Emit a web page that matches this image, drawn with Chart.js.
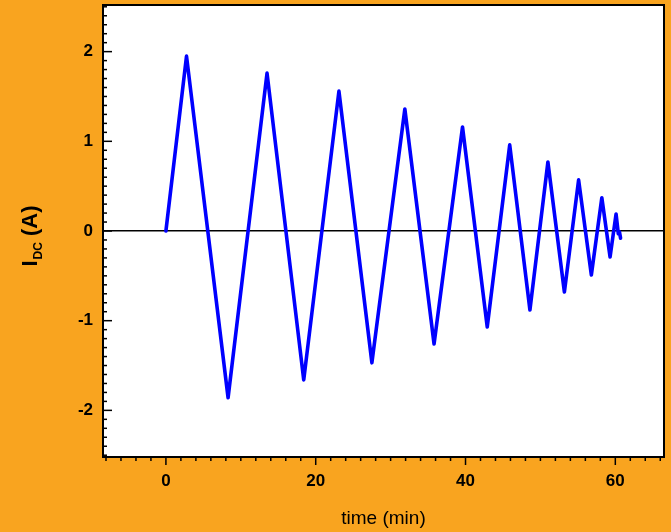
<!DOCTYPE html>
<html>
<head>
<meta charset="utf-8">
<script src="https://cdn.jsdelivr.net/npm/chart.js@4/dist/chart.umd.min.js"></script>
<style>
  html, body { margin: 0; padding: 0; background: #f9a41f; }
  #wrap { width: 671px; height: 532px; }
</style>
</head>
<body>
<div id="wrap"><canvas id="dcChart" width="671" height="532"></canvas></div>
<script>
// time in minutes, DC current in amps (turning points of the sweep)
const timeMin = [0, 2.75, 8.3, 13.5, 18.4, 23.1, 27.5, 31.9, 35.8, 39.6, 42.9, 45.9, 48.6, 51.0, 53.2, 55.1, 56.8, 58.2, 59.3, 60.1, 60.4, 60.55, 60.7];
const currentA = [0, 1.95, -1.86, 1.76, -1.66, 1.56, -1.47, 1.36, -1.26, 1.16, -1.07, 0.96, -0.88, 0.77, -0.68, 0.57, -0.49, 0.37, -0.29, 0.19, -0.03, -0.01, -0.08];
const xTickValues = [0, 20, 40, 60];
const yTickValues = [-2, -1, 0, 1, 2];

const points = timeMin.map((t, i) => ({ x: t, y: currentA[i] }));

const fontFamily = '"Liberation Sans", Arial, sans-serif';

// box frame, minor/major ticks and the subscripted y title
const framePlugin = {
  id: 'frame',
  afterDraw(chart) {
    const ctx = chart.ctx;
    const area = chart.chartArea;
    const xs = chart.scales.x;
    const ys = chart.scales.y;
    ctx.save();
    ctx.strokeStyle = '#000';

    // x ticks, outside below the axis
    ctx.lineWidth = 1.5;
    for (let v = -8; v <= xs.max; v += 2) {
      const px = xs.getPixelForValue(v);
      const len = v % 20 === 0 ? 8 : 4;
      ctx.beginPath();
      ctx.moveTo(px, area.bottom);
      ctx.lineTo(px, area.bottom + len);
      ctx.stroke();
    }
    // y ticks, inside from the left axis
    for (let k = -25; k <= 25; k++) {
      const v = k / 10;
      const py = ys.getPixelForValue(v);
      const len = k % 10 === 0 ? 9 : 4;
      ctx.beginPath();
      ctx.moveTo(area.left, py);
      ctx.lineTo(area.left + len, py);
      ctx.stroke();
    }

    ctx.lineWidth = 2;
    ctx.strokeRect(area.left, area.top, area.right - area.left, area.bottom - area.top);

    // y title: I_DC (A)
    ctx.translate(31, (area.top + area.bottom) / 2 + 5);
    ctx.rotate(-Math.PI / 2);
    ctx.fillStyle = '#000';
    ctx.textBaseline = 'middle';
    ctx.font = 'bold 22px ' + fontFamily;
    const wI = ctx.measureText('I').width;
    ctx.font = 'bold 12px ' + fontFamily;
    const wDC = ctx.measureText('DC').width;
    ctx.font = 'bold 22px ' + fontFamily;
    const wRest = ctx.measureText(' (A)').width;
    let x0 = -(wI + wDC + 1 + wRest) / 2;
    ctx.fillText('I', x0, 0);
    x0 += wI + 1;
    ctx.font = 'bold 12px ' + fontFamily;
    ctx.fillText('DC', x0, 8);
    x0 += wDC;
    ctx.font = 'bold 22px ' + fontFamily;
    ctx.fillText(' (A)', x0, 0);
    ctx.restore();
  }
};

const plotBg = {
  id: 'plotBg',
  beforeDraw(chart) {
    const ctx = chart.ctx;
    const a = chart.chartArea;
    ctx.save();
    ctx.fillStyle = '#f9a41f';
    ctx.fillRect(0, 0, chart.width, chart.height);
    ctx.fillStyle = '#ffffff';
    ctx.fillRect(a.left, a.top, a.right - a.left, a.bottom - a.top);
    ctx.restore();
  }
};

new Chart(document.getElementById('dcChart').getContext('2d'), {
  type: 'line',
  data: {
    datasets: [{
      label: 'I DC',
      data: points,
      borderColor: '#0000ff',
      borderWidth: 3.6,
      borderJoinStyle: 'round',
      borderCapStyle: 'round',
      pointRadius: 0,
      tension: 0,
      fill: false,
    }],
  },
  options: {
    responsive: false,
    animation: false,
    layout: { padding: { top: 5, right: 7, left: 0, bottom: 0 } },
    plugins: {
      legend: { display: false },
      tooltip: { enabled: false },
    },
    scales: {
      x: {
        type: 'linear',
        min: -8.4,
        max: 66.5,
        afterBuildTicks(scale) { scale.ticks = xTickValues.map(v => ({ value: v })); },
        afterFit(scale) {
          scale.height = 75;
          scale.paddingLeft = 0;
          scale.paddingRight = 0;
        },
        grid: { display: false, drawTicks: false },
        border: { display: false },
        ticks: {
          padding: 14,
          color: '#000',
          font: { family: fontFamily, size: 17, weight: 'bold' },
        },
        title: {
          display: true,
          text: 'time (min)',
          color: '#000',
          font: { family: fontFamily, size: 19 },
          padding: { top: 0, bottom: 2 },
        },
      },
      y: {
        type: 'linear',
        min: -2.52,
        max: 2.52,
        afterBuildTicks(scale) { scale.ticks = yTickValues.map(v => ({ value: v })); },
        afterFit(scale) {
          scale.width = 103;
          scale.paddingTop = 0;
          scale.paddingBottom = 0;
        },
        grid: {
          drawTicks: false,
          color: (c) => (c.tick && c.tick.value === 0 ? '#000' : 'rgba(0,0,0,0)'),
          lineWidth: 1.5,
        },
        border: { display: false },
        ticks: {
          padding: 10,
          color: '#000',
          font: { family: fontFamily, size: 17, weight: 'bold' },
        },
      },
    },
  },
  plugins: [plotBg, framePlugin],
});
</script>
</body>
</html>
